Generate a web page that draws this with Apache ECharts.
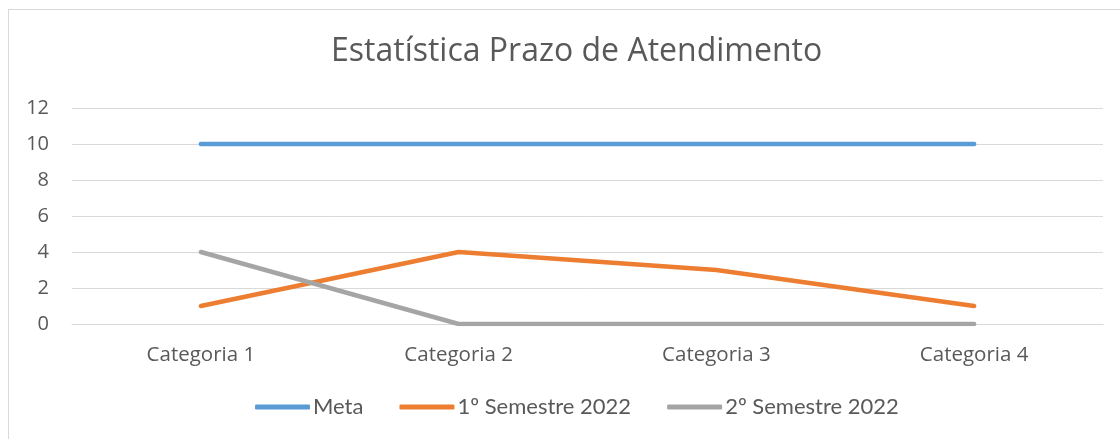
<!DOCTYPE html>
<html><head><meta charset="utf-8">
<script src="https://cdn.jsdelivr.net/npm/echarts@6/dist/echarts.min.js"></script>
<style>
html,body{margin:0;padding:0;background:#fff;}
#frame{position:absolute;left:8px;top:9px;width:1200px;height:500px;border:1px solid #D9D9D9;box-sizing:border-box;}
#c{position:absolute;left:0;top:0;width:1120px;height:439px;}
</style></head>
<body><div id="frame"></div><div id="c"></div>
<script>
const categories = ['Categoria 1','Categoria 2','Categoria 3','Categoria 4'];
const meta = [10,10,10,10];
const sem1 = [1,4,3,1];
const sem2 = [4,0,0,0];
const seriesNames = ['Meta','1º Semestre 2022','2º Semestre 2022'];
const colors = ['#5B9BD5','#ED7D31','#A5A5A5'];
const font = '"Open Sans", Lato, sans-serif';
const legendFont = 'Lato, "Open Sans", sans-serif';
const chart = echarts.init(document.getElementById('c'));
const mk = (name, data, color) => ({
  name, type:'line', data, symbol:'none', smooth:false,
  lineStyle:{width:4.5, color, cap:'round', join:'round'}, itemStyle:{color}
});
chart.setOption({
  animation:false,
  textStyle:{fontFamily:font},
  title:{text:'Estatística Prazo de Atendimento', left:326, top:31,
    textStyle:{fontFamily:font, fontSize:32, fontWeight:'normal', color:'#595959'}},
  legend:{bottom:16, left:250, itemWidth:55, itemHeight:5, itemGap:36,
    icon:'roundRect',
    textStyle:{fontFamily:legendFont, fontSize:22, color:'#595959', padding:[0,0,0,-2]},
    data:seriesNames},
  grid:{left:72, right:17, top:108, bottom:115, containLabel:false},
  xAxis:{type:'category', data:categories, boundaryGap:true,
    axisLine:{show:true, lineStyle:{color:'#D9D9D9', width:1}},
    axisTick:{show:false},
    axisLabel:{fontFamily:font, fontSize:20.5, color:'#595959', margin:21}},
  yAxis:{type:'value', min:0, max:12, interval:2,
    axisLine:{show:false}, axisTick:{show:false},
    splitLine:{lineStyle:{color:'#D9D9D9', width:1}},
    axisLabel:{fontFamily:font, fontSize:20, color:'#595959', margin:23}},
  series:[mk(seriesNames[0],meta,colors[0]), mk(seriesNames[1],sem1,colors[1]), mk(seriesNames[2],sem2,colors[2])]
});
</script></body></html>
